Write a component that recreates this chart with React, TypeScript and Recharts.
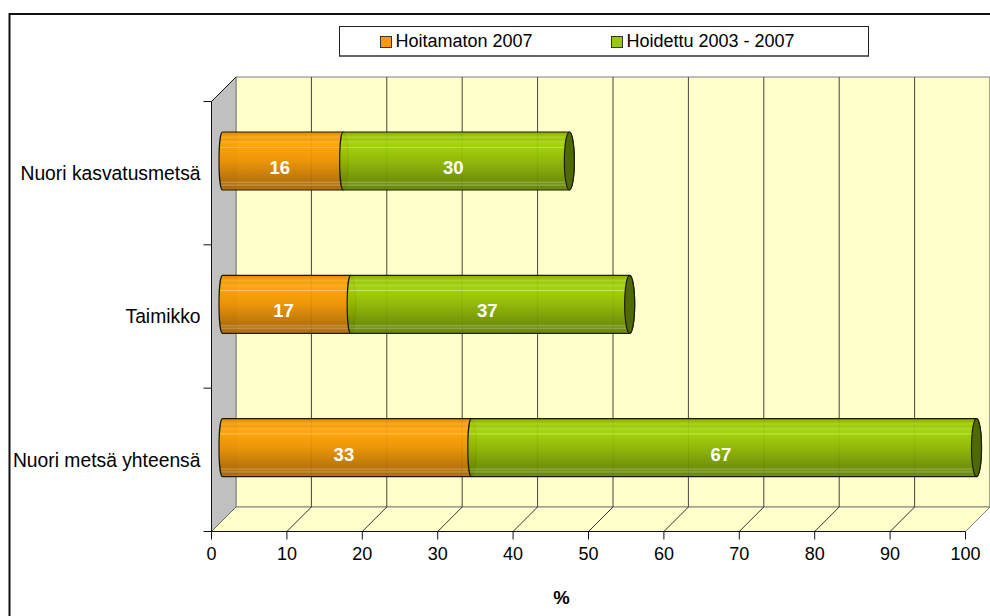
import { Bar, BarChart, LabelList, Legend, XAxis, YAxis } from "recharts";

const categories = ["Nuori kasvatusmetsä", "Taimikko", "Nuori metsä yhteensä"];
const hoitamaton = [16, 17, 33];
const hoidettu = [30, 37, 67];
const xTicks = [0, 10, 20, 30, 40, 50, 60, 70, 80, 90, 100];

const rows = categories.map((name, i) => ({ name, hoitamaton: hoitamaton[i], hoidettu: hoidettu[i] }));

const FONT = "'Liberation Sans', Arial, sans-serif";
const W = 990;
const H = 616;
// front plane of the fake 3d box
const LEFT = 211.5;
const RIGHT = 965.5;
const TOP = 101.5;
const BOTTOM = 531.5;
const DX = 24.5;
const DY = 24.5;
// bars sit half way into the box
const BAR_DX = 11;
const BAR_DY = -12.5;

const orangeStops: [number, string][] = [
  [0, "#d98600"], [5, "#ee9300"], [9, "#f9a51c"], [13, "#f29800"], [17, "#fcaa20"], [21, "#ff9f00"],
  [25, "#ff9f00"], [26, "#ffc45f"], [28, "#fc9d00"], [50, "#ea9000"], [84, "#b46d00"], [87, "#c68a3c"],
  [89, "#b26e06"], [92, "#c68a3c"], [94, "#a96500"], [100, "#b57214"],
];
const greenStops: [number, string][] = [
  [0, "#86a800"], [5, "#92ba00"], [9, "#a6d01c"], [13, "#97c300"], [17, "#a9d422"], [21, "#9dd000"],
  [25, "#9dd000"], [26, "#c6e25f"], [28, "#9bcc00"], [50, "#8cb500"], [84, "#698b00"], [87, "#88a53c"],
  [89, "#6a8c06"], [92, "#88a53c"], [94, "#628200"], [100, "#6e8a14"],
];

function Cylinder(props: any) {
  const { x, y, width, height, fill, cap } = props;
  const x0 = x + BAR_DX;
  const y0 = y + BAR_DY;
  const rx = 3.5;
  const capRx = 5;
  const ry = height / 2;
  const d = `M${x0},${y0} L${x0 + width},${y0} A${capRx},${ry} 0 0 1 ${x0 + width},${y0 + height} L${x0},${y0 + height} A${rx},${ry} 0 0 1 ${x0},${y0} Z`;
  return (
    <g>
      <path d={d} fill={fill} fillOpacity={0.95} stroke="#1c1c00" strokeWidth={1.2} />
      {cap && <ellipse cx={x0 + width} cy={y0 + ry} rx={capRx} ry={ry} fill="#4f6a00" stroke="#1c1c00" strokeWidth={1.2} />}
    </g>
  );
}

function ValueLabel(props: any) {
  const { x, y, width, height, value } = props;
  return (
    <text
      x={x + BAR_DX + width / 2 - 3}
      y={y + BAR_DY + height / 2 + 13}
      fill="#fff"
      fontFamily={FONT}
      fontWeight="bold"
      fontSize={18.5}
      textAnchor="middle"
    >
      {value}
    </text>
  );
}

function Box3D() {
  const scaleX = (v: number) => LEFT + (v / 100) * (RIGHT - LEFT);
  const band = (BOTTOM - TOP) / categories.length;
  const edges = [0, 1, 2, 3].map((i) => TOP + i * band);
  return (
    <g>
      <path d={`M9.5,640 L9.5,14 L1000,14`} fill="none" stroke="#111" strokeWidth={2} />
      <rect x={LEFT + DX} y={TOP - DY} width={RIGHT - LEFT} height={BOTTOM - TOP} fill="#ffffcc" stroke="#808080" />
      <polygon
        points={`${LEFT},${BOTTOM} ${RIGHT},${BOTTOM} ${RIGHT + DX},${BOTTOM - DY} ${LEFT + DX},${BOTTOM - DY}`}
        fill="#ffffcc"
        stroke="#808080"
      />
      <polygon
        points={`${LEFT},${TOP} ${LEFT + DX},${TOP - DY} ${LEFT + DX},${BOTTOM - DY} ${LEFT},${BOTTOM}`}
        fill="#c0c0c0"
        stroke="#808080"
      />
      <line x1={LEFT} y1={TOP} x2={LEFT + DX} y2={TOP - DY} stroke="#111" />
      <line x1={LEFT} y1={BOTTOM} x2={LEFT + DX} y2={BOTTOM - DY} stroke="#666" />
      {xTicks.slice(1).map((t) => (
        <g key={t}>
          <line x1={scaleX(t) + DX} y1={TOP - DY} x2={scaleX(t) + DX} y2={BOTTOM - DY} stroke={t === 100 ? "#808080" : "#444"} />
          <line x1={scaleX(t)} y1={BOTTOM} x2={scaleX(t) + DX} y2={BOTTOM - DY} stroke={t === 100 ? "#808080" : "#333"} />
        </g>
      ))}
      {edges.map((e) => (
        <line key={e} x1={LEFT - 8} y1={e} x2={LEFT} y2={e} stroke="#111" />
      ))}
    </g>
  );
}

function LegendBox({ payload }: any) {
  return (
    <div
      style={{
        boxSizing: "border-box",
        width: 530,
        height: 31,
        border: "1px solid #222",
        borderBottom: "2px solid #666",
        background: "#fff",
        fontFamily: FONT,
        fontSize: 18,
        color: "#000",
        position: "relative",
      }}
    >
      {(payload || []).map((p: any, i: number) => (
        <div key={p.value} style={{ position: "absolute", left: i === 0 ? 39.5 : 270.5, top: 0, height: 29, lineHeight: "29px", whiteSpace: "nowrap" }}>
          <span style={{ display: "inline-block", boxSizing: "border-box", width: 12, height: 12, border: "1px solid #333", background: p.color, marginRight: 4, verticalAlign: "-1px" }} />
          {p.value}
        </div>
      ))}
    </div>
  );
}

export default function App() {
  return (
    <div style={{ position: "absolute", left: 0, top: 0, width: W, height: H, background: "#fff", overflow: "hidden" }}>
      <BarChart
        width={W}
        height={H}
        data={rows}
        layout="vertical"
        barSize={58}
        margin={{ top: TOP, right: W - RIGHT, bottom: 0, left: 0 }}
        style={{ fontFamily: FONT }}
      >
        <defs>
          <linearGradient id="orangeBand" x1="0" y1="0" x2="0" y2="1">
            {orangeStops.map(([o, c]) => <stop key={o} offset={`${o}%`} stopColor={c} />)}
          </linearGradient>
          <linearGradient id="greenBand" x1="0" y1="0" x2="0" y2="1">
            {greenStops.map(([o, c]) => <stop key={o} offset={`${o}%`} stopColor={c} />)}
          </linearGradient>
        </defs>
        <Box3D />
        <XAxis
          type="number"
          domain={[0, 100]}
          ticks={xTicks}
          interval={0}
          height={H - BOTTOM}
          tickSize={8}
          tickMargin={8}
          stroke="#111"
          tick={{ fill: "#000", fontSize: 18, fontFamily: FONT }}
          label={{ value: "%", position: "insideBottom", offset: 12, dx: -27, fill: "#000", fontSize: 18.5, fontWeight: "bold", fontFamily: FONT }}
        />
        <YAxis
          type="category"
          dataKey="name"
          width={LEFT}
          interval={0}
          tickLine={false}
          tickMargin={5}
          stroke="#111"
          tick={{ fill: "#000", fontSize: 19.3, fontFamily: FONT }}
        />
        <Legend
          layout="horizontal"
          verticalAlign="middle"
          content={<LegendBox />}
          itemSorter={null}
          wrapperStyle={{ left: 339, top: 26, width: 530, height: 31 }}
        />
        <Bar
          dataKey="hoitamaton"
          name="Hoitamaton 2007"
          stackId="a"
          fill="#ff9900"
          isAnimationActive={false}
          shape={(p: any) => <Cylinder {...p} fill="url(#orangeBand)" />}
        >
          <LabelList dataKey="hoitamaton" content={<ValueLabel />} />
        </Bar>
        <Bar
          dataKey="hoidettu"
          name="Hoidettu 2003 - 2007"
          stackId="a"
          fill="#99cc00"
          isAnimationActive={false}
          shape={(p: any) => <Cylinder {...p} fill="url(#greenBand)" cap />}
        >
          <LabelList dataKey="hoidettu" content={<ValueLabel />} />
        </Bar>
      </BarChart>
    </div>
  );
}
